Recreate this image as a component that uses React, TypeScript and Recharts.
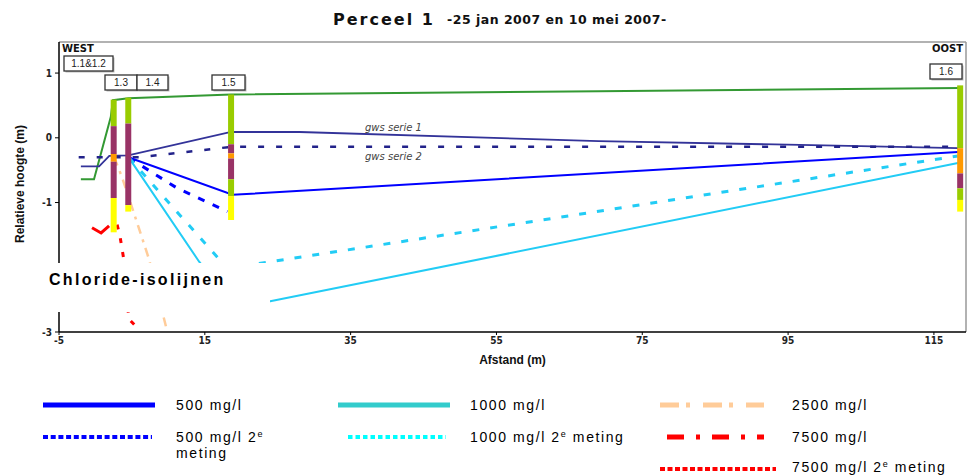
import React from 'react';
import { LineChart, Line, XAxis, YAxis, ReferenceLine } from 'recharts';

// afstand (m) / relatieve hoogte (m)
const maaiveldX = [-2.0, -0.2, 2.1, 2.4, 4.5, 18.6, 69, 118.6];
const maaiveldY = [-0.64, -0.64, 0.32, 0.58, 0.61, 0.67, 0.72, 0.77];

const gws1X = [-2.0, 0.5, 1.9, 4.5, 18.6, 28, 69, 96.6, 118.3];
const gws1Y = [-0.44, -0.44, -0.28, -0.27, 0.09, 0.09, -0.05, -0.11, -0.16];

const gws2X = [-2.3, 6.0, 18.6, 118.3];
const gws2Y = [-0.3, -0.3, -0.14, -0.14];

const cl500X = [4.5, 18.8, 118.3];
const cl500Y = [-0.3, -0.88, -0.22];

const cl500bX = [4.6, 11.1, 18.1];
const cl500bY = [-0.31, -0.77, -1.14];

const cl1000X = [4.6, 14.2, 19.0, 23.8, 118.3];
const cl1000Y = [-0.31, -1.91, -2.6, -2.53, -0.39];

const cl1000bX = [4.6, 17.0, 18.1, 24.3, 118.3];
const cl1000bY = [-0.31, -1.88, -2.02, -1.91, -0.28];

const cl2500X = [2.55, 3.65, 6.26, 7.36, 9.84];
const cl2500Y = [-0.3, -0.61, -1.5, -1.88, -2.99];

const cl7500X = [-0.47, 0.77, 1.87];
const cl7500Y = [-1.39, -1.47, -1.36];

const cl7500bX = [2.97, 3.38, 3.93, 4.3, 4.6, 5.6];
const cl7500bY = [-1.34, -1.53, -1.91, -2.5, -2.8, -2.92];

// peilbuizen: positie, laaggrenzen (boven -> onder), laagtypes
const wellNames = ['1.3', '1.4', '1.5', '1.6'];
const wellX = [2.5, 4.5, 18.6, 118.6];
const wellDepths = [
  [0.59, 0.18, -0.25, -0.37, -0.93, -1.46],
  [0.62, 0.22, -1.04, -1.14],
  [0.67, -0.1, -0.24, -0.32, -0.64, -0.9, -1.27],
  [0.81, -0.16, -0.55, -0.78, -0.96, -1.14],
];
const wellLayers = [
  ['groen', 'paars', 'oranje', 'paars', 'geel'],
  ['groen', 'paars', 'geel'],
  ['groen', 'paars', 'oranje', 'paars', 'groen', 'geel'],
  ['groen', 'oranje', 'paars', 'groen', 'geel'],
];

const xTicks = [-5, 15, 35, 55, 75, 95, 115];
const yTicks = [-3, -2, -1, 0, 1];

const layerColor: Record<string, string> = {
  groen: '#99cc00',
  paars: '#993366',
  oranje: '#ff9900',
  geel: '#ffff00',
};

const pts = (xs: number[], ys: number[]) => xs.map((x, i) => ({ x, y: ys[i] }));

const tickFont = { fontSize: 10, fontWeight: 700, fill: '#222', fontFamily: '"Liberation Sans Narrow", "DejaVu Sans Condensed", sans-serif' };
const legendFont = { fontFamily: '"Liberation Sans", Arial, sans-serif', fontSize: 14, letterSpacing: 1.6, fill: '#000' };

const Sup = () => <tspan fontSize={9} dy={-5}>e</tspan>;

const WellBox = ({ x, y, w, label }: { x: number; y: number; w: number; label: string }) => (
  <g>
    <rect x={x + 1.5} y={y + 1.5} width={w} height={15} fill="#bbb" />
    <rect x={x} y={y} width={w} height={15} fill="#fff" stroke="#333" strokeWidth={1.3} />
    <text x={x + w / 2} y={y + 11} textAnchor="middle" fontSize={10} fontFamily="'Liberation Sans Narrow', sans-serif" fill="#222">{label}</text>
  </g>
);

export default function App() {
  const wellSegments: { key: string; data: { x: number; y: number }[]; color: string }[] = [];
  wellX.forEach((wx, w) => {
    wellLayers[w].forEach((layer, i) => {
      wellSegments.push({
        key: `${wellNames[w]}-${i}`,
        data: [{ x: wx, y: wellDepths[w][i] }, { x: wx, y: wellDepths[w][i + 1] }],
        color: layerColor[layer],
      });
    });
  });

  return (
    <div style={{ position: 'fixed', left: 0, top: 0, width: 970, height: 476, background: '#fff', overflow: 'hidden' }}>
      <LineChart width={970} height={372} margin={{ top: 42, right: 4, left: 0, bottom: 0 }}>
        <XAxis
          type="number" dataKey="x" domain={[-5, 119.4]} ticks={xTicks} allowDataOverflow
          tick={tickFont} tickSize={3} tickMargin={2} height={40}
          axisLine={{ stroke: '#000', strokeWidth: 1.5 }} tickLine={{ stroke: '#000' }}
          label={{ value: 'Afstand (m)', position: 'insideBottom', offset: 8, style: { fontSize: 12, fontWeight: 700, fill: '#111', fontFamily: '"Liberation Sans Narrow", sans-serif' } }}
        />
        <YAxis
          type="number" dataKey="y" domain={[-3, 1.48]} ticks={yTicks} allowDataOverflow
          tick={tickFont} tickSize={4} tickMargin={3} width={59}
          axisLine={{ stroke: '#000', strokeWidth: 1.5 }} tickLine={{ stroke: '#000' }}
        />
        <ReferenceLine y={1.48} stroke="#999" strokeWidth={1.5} />
        <ReferenceLine x={119.4} stroke="#999" strokeWidth={1.5} />

        <Line data={pts(maaiveldX, maaiveldY)} dataKey="y" stroke="#339933" strokeWidth={2} dot={false} isAnimationActive={false} />
        <Line data={pts(gws1X, gws1Y)} dataKey="y" stroke="#333399" strokeWidth={1.8} dot={false} isAnimationActive={false} />
        <Line data={pts(gws2X, gws2Y)} dataKey="y" stroke="#22228a" strokeWidth={2.5} strokeDasharray="6 12" dot={false} isAnimationActive={false} />
        <Line data={pts(cl500X, cl500Y)} dataKey="y" stroke="#0000ff" strokeWidth={2} dot={false} isAnimationActive={false} />
        <Line data={pts(cl500bX, cl500bY)} dataKey="y" stroke="#0000ff" strokeWidth={3} strokeDasharray="7 9" dot={false} isAnimationActive={false} />
        <Line data={pts(cl1000X, cl1000Y)} dataKey="y" stroke="#22ccf5" strokeWidth={2} dot={false} isAnimationActive={false} />
        <Line data={pts(cl1000bX, cl1000bY)} dataKey="y" stroke="#22ccf5" strokeWidth={3} strokeDasharray="7 11" dot={false} isAnimationActive={false} />
        <Line data={pts(cl2500X, cl2500Y)} dataKey="y" stroke="#ffcc99" strokeWidth={2.5} strokeDasharray="9 6 3 6" dot={false} isAnimationActive={false} />
        <Line data={pts(cl7500X, cl7500Y)} dataKey="y" stroke="#ff0000" strokeWidth={3} dot={false} isAnimationActive={false} />
        <Line data={pts(cl7500bX, cl7500bY)} dataKey="y" stroke="#ff0000" strokeWidth={3} strokeDasharray="5 9" dot={false} isAnimationActive={false} />

        {wellSegments.map(s => (
          <Line key={s.key} data={s.data} dataKey="y" stroke={s.color} strokeWidth={6} strokeLinecap="butt" dot={false} isAnimationActive={false} />
        ))}
      </LineChart>

      <svg width={970} height={476} style={{ position: 'absolute', left: 0, top: 0, pointerEvents: 'none' }}>
        <text x={333} y={25} fontFamily="'DejaVu Sans', sans-serif" fontWeight={700} fontSize={16} letterSpacing={2} fill="#111">Perceel 1</text>
        <text x={447} y={24} fontFamily="'DejaVu Sans', sans-serif" fontWeight={700} fontSize={12.5} letterSpacing={0.5} fill="#111">-25 jan 2007 en 10 mei 2007-</text>

        <text x={62} y={52} fontFamily="'DejaVu Sans', sans-serif" fontWeight={700} fontSize={10} fill="#111">WEST</text>
        <text x={963} y={52} textAnchor="end" fontFamily="'DejaVu Sans', sans-serif" fontWeight={700} fontSize={10} fill="#111">OOST</text>

        <WellBox x={64} y={56} w={49} label="1.1&1.2" />
        <WellBox x={105} y={75} w={32} label="1.3" />
        <WellBox x={137} y={75} w={31} label="1.4" />
        <WellBox x={212} y={75} w={33} label="1.5" />
        <WellBox x={930} y={64} w={32} label="1.6" />

        <text x={365} y={131} fontFamily="'DejaVu Sans', sans-serif" fontStyle="italic" fontSize={10} fill="#444">gws serie 1</text>
        <text x={365} y={160} fontFamily="'DejaVu Sans', sans-serif" fontStyle="italic" fontSize={10} fill="#444">gws serie 2</text>

        <rect x={0} y={263} width={270} height={49} fill="#fff" />
        <text x={49} y={285} fontFamily="'Liberation Sans', Arial, sans-serif" fontWeight={700} fontSize={16} letterSpacing={2.3} fill="#000">Chloride-isolijnen</text>

        <text transform="translate(24,184) rotate(-90)" textAnchor="middle" fontFamily="'Liberation Sans Narrow', sans-serif" fontWeight={700} fontSize={12} fill="#111">Relatieve hoogte (m)</text>

        {/* legenda */}
        <line x1={43} x2={155} y1={405} y2={405} stroke="#0000ff" strokeWidth={5} />
        <text x={176} y={410} {...legendFont}>500 mg/l</text>
        <line x1={338} x2={450} y1={405} y2={405} stroke="#33cccc" strokeWidth={5} />
        <text x={470} y={410} {...legendFont}>1000 mg/l</text>
        <line x1={660} x2={764} y1={405} y2={405} stroke="#ffcc99" strokeWidth={5} strokeDasharray="19 7 4 13" />
        <text x={792} y={410} {...legendFont}>2500 mg/l</text>

        <line x1={43} x2={152} y1={437} y2={437} stroke="#0000ff" strokeWidth={4} strokeDasharray="5 2.7" />
        <text x={176} y={442} {...legendFont}>500 mg/l 2<Sup /></text>
        <text x={176} y={458} {...legendFont}>meting</text>
        <line x1={348} x2={446} y1={437} y2={437} stroke="#00ffff" strokeWidth={4} strokeDasharray="4.5 3" />
        <text x={470} y={442} {...legendFont}>1000 mg/l 2<Sup /><tspan dy={5}> meting</tspan></text>
        <line x1={667} x2={764} y1={437} y2={437} stroke="#ff0000" strokeWidth={5} strokeDasharray="17 12 4 12" />
        <text x={792} y={442} {...legendFont}>7500 mg/l</text>

        <line x1={660} x2={776} y1={469} y2={469} stroke="#ff0000" strokeWidth={4} strokeDasharray="5 2.5" />
        <text x={792} y={472} {...legendFont}>7500 mg/l 2<Sup /><tspan dy={5}> meting</tspan></text>
      </svg>
    </div>
  );
}
